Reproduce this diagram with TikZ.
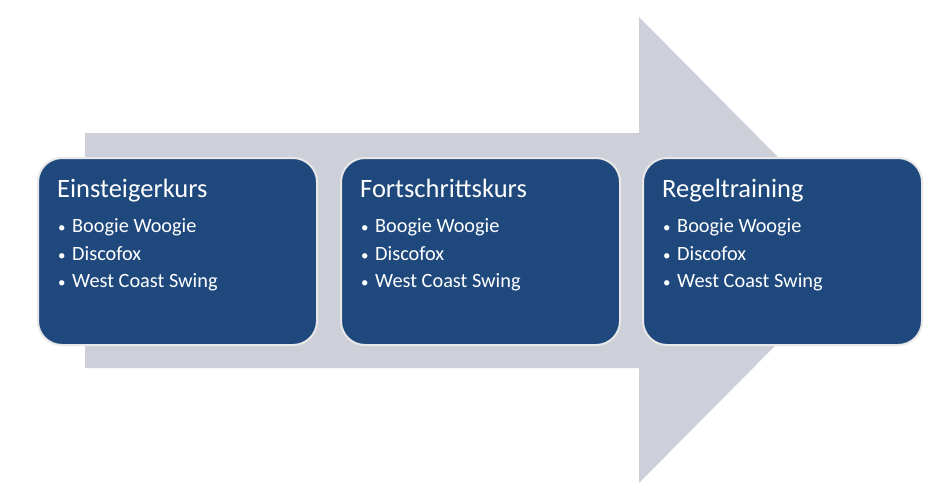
\documentclass[tikz,border=0pt]{standalone}
\usepackage{fontspec}
\setmainfont{Carlito}
\definecolor{arrowgray}{RGB}{205,208,216}
\definecolor{boxblue}{RGB}{31,73,125}
\definecolor{boxedge}{RGB}{232,232,232}
\tikzset{
  stagebox/.style={draw=boxedge, line width=2pt, fill=boxblue, rounded corners=24pt,
    minimum width=279pt, minimum height=187pt, inner sep=0pt, anchor=north west},
  stagetitle/.style={anchor=base west, inner sep=0pt, text=white, font=\fontsize{26.5}{30}\selectfont},
  stageitem/.style={anchor=base west, inner sep=0pt, text=white, font=\fontsize{20.3}{24}\selectfont},
  stagedot/.style={anchor=base west, inner sep=0pt, text=white, font=\fontsize{15}{18}\selectfont}
}
\begin{document}
\begin{tikzpicture}[x=1pt,y=-1pt]
\useasboundingbox (0,0) rectangle (939,503);
% big arrow
\fill[arrowgray] (85,133) -- (639,133) -- (639,17) -- (870,250) -- (639,483) -- (639,368) -- (85,368) -- cycle;
% boxes
\foreach \i/\x/\t in {1/37/Einsteigerkurs, 2/340/Fortschrittskurs, 3/642/Regeltraining}{
  \node[stagebox] (b\i) at (\x,157) {};
  \node[stagetitle] (t\i) at ([xshift=20pt,yshift=-40pt]b\i.north west) {\t};
  \foreach \j/\dy/\s in {1/75/Boogie Woogie, 2/103/Discofox, 3/130/West Coast Swing}{
    \node[stagedot] (d\i\j) at ([xshift=21pt,yshift=-\dy pt]b\i.north west) {•};
    \node[stageitem] (s\i\j) at ([xshift=35pt,yshift=-\dy pt]b\i.north west) {\s};
  }
}
\end{tikzpicture}
\end{document}
